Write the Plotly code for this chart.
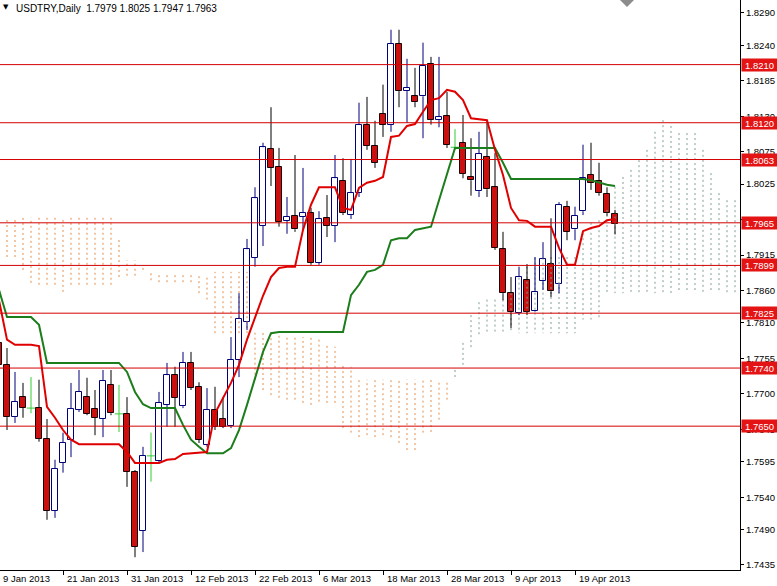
import plotly.graph_objects as go

# ---------------- data ----------------
date_labels = ["9 Jan 2013", "21 Jan 2013", "31 Jan 2013", "12 Feb 2013", "22 Feb 2013",
               "6 Mar 2013", "18 Mar 2013", "28 Mar 2013", "9 Apr 2013", "19 Apr 2013"]
label_bars = [0, 8, 16, 24, 32, 40, 48, 56, 64, 72]

opens = [1.7779, 1.7745, 1.7664, 1.7695, 1.7678, 1.7678, 1.7630, 1.7519, 1.7593, 1.7629,
         1.7675, 1.7695, 1.7677, 1.7661, 1.7714, 1.7669, 1.7669, 1.7579, 1.7488, 1.7604,
         1.7596, 1.7683, 1.7729, 1.7681, 1.7748, 1.7711, 1.7621, 1.7675, 1.7661, 1.7650,
         1.7753, 1.7811, 1.7911, 1.7960, 1.8079, 1.8052, 1.7968, 1.7976, 1.7974, 1.7980,
         1.7903, 1.7972, 1.7960, 1.8030, 1.7977, 1.8011, 1.8117, 1.8084, 1.8134, 1.8117,
         1.8242, 1.8169, 1.8161, 1.8161, 1.8211, 1.8124, 1.8130, 1.8082, 1.8089, 1.8036,
         1.8014, 1.8067, 1.8020, 1.7924, 1.7856, 1.7825, 1.7876, 1.7828, 1.7875, 1.7901,
         1.7870, 1.7990, 1.7955, 1.7983, 1.8039, 1.8030, 1.8010, 1.7979]
highs = [1.7791, 1.7771, 1.7734, 1.7717, 1.7726, 1.7722, 1.7661, 1.7598, 1.7640, 1.7717,
         1.7737, 1.7725, 1.7706, 1.7737, 1.7737, 1.7714, 1.7695, 1.7582, 1.7618, 1.7640,
         1.7703, 1.7748, 1.7742, 1.7765, 1.7765, 1.7718, 1.7709, 1.7711, 1.7695, 1.7788,
         1.7856, 1.7940, 1.8020, 1.8089, 1.8144, 1.8081, 1.8005, 1.8070, 1.8050, 1.7988,
         1.7983, 1.8008, 1.8070, 1.8065, 1.8064, 1.8151, 1.8160, 1.8123, 1.8179, 1.8264,
         1.8264, 1.8219, 1.8205, 1.8244, 1.8222, 1.8222, 1.8168, 1.8110, 1.8132, 1.8096,
         1.8106, 1.8124, 1.8073, 1.7951, 1.7881, 1.7897, 1.7901, 1.7912, 1.7935, 1.7972,
         1.7997, 1.7999, 1.7990, 1.8086, 1.8089, 1.8058, 1.8020, 1.7985]
lows = [1.7737, 1.7644, 1.7655, 1.7663, 1.7670, 1.7626, 1.7505, 1.7508, 1.7578, 1.7602,
        1.7672, 1.7667, 1.7636, 1.7633, 1.7667, 1.7641, 1.7556, 1.7447, 1.7455, 1.7564,
        1.7593, 1.7649, 1.7649, 1.7678, 1.7706, 1.7624, 1.7618, 1.7644, 1.7647, 1.7647,
        1.7726, 1.7799, 1.7897, 1.7929, 1.8022, 1.7959, 1.7948, 1.7951, 1.7954, 1.7900,
        1.7900, 1.7943, 1.7935, 1.7977, 1.7971, 1.8005, 1.8078, 1.8050, 1.8098, 1.8106,
        1.8144, 1.8120, 1.8144, 1.8096, 1.8117, 1.8113, 1.8081, 1.8078, 1.8034, 1.8007,
        1.8005, 1.8005, 1.7923, 1.7845, 1.7802, 1.7822, 1.7822, 1.7827, 1.7861, 1.7850,
        1.7856, 1.7938, 1.7938, 1.7977, 1.8016, 1.8007, 1.7976, 1.7947]
closes = [1.7745, 1.7664, 1.7688, 1.7678, 1.7678, 1.7630, 1.7519, 1.7584, 1.7624, 1.7677,
          1.7703, 1.7669, 1.7663, 1.7720, 1.7670, 1.7669, 1.7579, 1.7463, 1.7604, 1.7604,
          1.7686, 1.7729, 1.7694, 1.7748, 1.7709, 1.7629, 1.7675, 1.7649, 1.7649, 1.7753,
          1.7816, 1.7924, 1.8003, 1.8082, 1.8050, 1.7966, 1.7974, 1.7955, 1.7980, 1.7903,
          1.7971, 1.7960, 1.8034, 1.7980, 1.8011, 1.8117, 1.8084, 1.8058, 1.8117, 1.8242,
          1.8169, 1.8174, 1.8152, 1.8208, 1.8124, 1.8129, 1.8086, 1.8082, 1.8041, 1.8031,
          1.8072, 1.8017, 1.7926, 1.7856, 1.7827, 1.7881, 1.7827, 1.7858, 1.7909, 1.7859,
          1.7993, 1.7951, 1.7976, 1.8034, 1.8027, 1.8011, 1.7980, 1.7963]

tenkan = [1.7845, 1.7784, 1.7776, 1.7776, 1.7776, 1.7774, 1.7680, 1.7663, 1.7644, 1.7629,
          1.7622, 1.7622, 1.7622, 1.7622, 1.7622, 1.7622, 1.7610, 1.7593, 1.7593, 1.7593,
          1.7593, 1.7598, 1.7599, 1.7607, 1.7608, 1.7608, 1.7610, 1.7670, 1.7694, 1.7717,
          1.7745, 1.7784, 1.7818, 1.7852, 1.7881, 1.7895, 1.7897, 1.7897, 1.7954, 1.7993,
          1.8020, 1.8020, 1.8020, 1.7988, 1.7985, 1.8019, 1.8027, 1.8030, 1.8036, 1.8098,
          1.8100, 1.8115, 1.8118, 1.8137, 1.8155, 1.8158, 1.8171, 1.8168, 1.8155, 1.8127,
          1.8126, 1.8124, 1.8078, 1.8039, 1.7988, 1.7969, 1.7968, 1.7959, 1.7959, 1.7959,
          1.7926, 1.7900, 1.7900, 1.7952, 1.7957, 1.7960, 1.7969, 1.7971]
kijun = [1.7861, 1.7819, 1.7819, 1.7819, 1.7819, 1.7807, 1.7748, 1.7748, 1.7748, 1.7748,
         1.7748, 1.7748, 1.7748, 1.7748, 1.7748, 1.7748, 1.7734, 1.7703, 1.7684, 1.7678,
         1.7678, 1.7678, 1.7678, 1.7652, 1.7629, 1.7618, 1.7608, 1.7608, 1.7608, 1.7616,
         1.7644, 1.7683, 1.7726, 1.7765, 1.7794, 1.7796, 1.7796, 1.7796, 1.7796, 1.7796,
         1.7796, 1.7796, 1.7796, 1.7796, 1.7853, 1.7869, 1.7889, 1.7892, 1.7900, 1.7938,
         1.7941, 1.7941, 1.7954, 1.7957, 1.7959, 1.8000, 1.8039, 1.8081, 1.8081, 1.8081,
         1.8081, 1.8081, 1.8081, 1.8058, 1.8033, 1.8033, 1.8033, 1.8033, 1.8033, 1.8033,
         1.8033, 1.8033, 1.8033, 1.8033, 1.8031, 1.8027, 1.8024, 1.8022]

# Senkou spans (already shifted 26 bars ahead, so they run past the last candle)
span_a = [1.7912, 1.7912, 1.7912, 1.7892, 1.7872, 1.7869, 1.7869, 1.7869, 1.7858, 1.7869,
          1.7869, 1.7869, 1.7869, 1.7869, 1.7869, 1.7881, 1.7883, 1.7883, 1.7892, 1.7876,
          1.7873, 1.7873, 1.7873, 1.7873, 1.7873, 1.7856, 1.7846, 1.7794, 1.7794, 1.7794,
          1.7794, 1.7794, 1.7722, 1.7706, 1.7698, 1.7694, 1.7691, 1.7691, 1.7686, 1.7683,
          1.7688, 1.7686, 1.7686, 1.7647, 1.7640, 1.7633, 1.7636, 1.7633, 1.7636, 1.7633,
          1.7624, 1.7613, 1.7613, 1.7640, 1.7641, 1.7660, 1.7691, 1.7737, 1.7779, 1.7822,
          1.7842, 1.7846, 1.7846, 1.7846, 1.7856, 1.7880, 1.7897, 1.7911, 1.7911, 1.7912,
          1.7912, 1.7912, 1.7912, 1.7949, 1.7965, 1.7969, 1.7985, 1.8021, 1.8036, 1.8047,
          1.8062, 1.8078, 1.8106, 1.8124, 1.8115, 1.8104, 1.8104, 1.8104, 1.8078, 1.8042,
          1.8011, 1.8000, 1.8000]
span_b = [1.7973, 1.7973, 1.7973, 1.7973, 1.7973, 1.7973, 1.7973, 1.7973, 1.7973, 1.7973,
          1.7973, 1.7973, 1.7973, 1.7973, 1.7973, 1.7942, 1.7907, 1.7907, 1.7898, 1.7887,
          1.7887, 1.7887, 1.7887, 1.7887, 1.7887, 1.7887, 1.7884, 1.7889, 1.7889, 1.7889,
          1.7889, 1.7889, 1.7796, 1.7796, 1.7794, 1.7791, 1.7791, 1.7791, 1.7788, 1.7788,
          1.7784, 1.7776, 1.7773, 1.7745, 1.7742, 1.7722, 1.7722, 1.7722, 1.7722, 1.7722,
          1.7722, 1.7722, 1.7722, 1.7722, 1.7722, 1.7722, 1.7722, 1.7722, 1.7745, 1.7771,
          1.7791, 1.7794, 1.7794, 1.7794, 1.7794, 1.7794, 1.7794, 1.7794, 1.7794, 1.7794,
          1.7794, 1.7794, 1.7794, 1.7815, 1.7815, 1.7815, 1.7856, 1.7856, 1.7856, 1.7856,
          1.7856, 1.7856, 1.7856, 1.7856, 1.7856, 1.7856, 1.7856, 1.7856, 1.7856, 1.7856,
          1.7856, 1.7856, 1.7856]

levels = [1.8210, 1.8120, 1.8063, 1.7965, 1.7899, 1.7825, 1.7740, 1.7650]
y_ticks = [1.8290, 1.8240, 1.8185, 1.8130, 1.8075, 1.8025, 1.7970, 1.7915, 1.7860,
           1.7810, 1.7755, 1.7700, 1.7645, 1.7595, 1.7540, 1.7490, 1.7435]

title_text = "USDTRY,Daily  1.7979 1.8025 1.7947 1.7963"

# ---------------- styles ----------------
FONT = "Liberation Sans"
BULL_LINE = "#00007a"
BEAR_FILL = "#cc1010"
BEAR_LINE = "#1a0000"
DOJI = "#33cc33"
TENKAN_C = "#e00000"
KIJUN_C = "#1b7d1b"
CLOUD_BEAR = "#e09050"
CLOUD_BULL = "#7f9f92"
LEVEL_C = "#d40000"
X_RANGE = [0.125, 92.625]
Y_RANGE = [1.74272, 1.83101]

fig = go.Figure()

# ---- cloud (vertical dotted columns) ----
for color, want_bull in ((CLOUD_BEAR, False), (CLOUD_BULL, True)):
    xs, ys = [], []
    for i, (a, b) in enumerate(zip(span_a, span_b)):
        if (a > b) == want_bull:
            xs += [i, i, None]
            ys += [a, b, None]
    fig.add_trace(go.Scatter(x=xs, y=ys, mode="lines", hoverinfo="skip",
                             line=dict(color=color, width=1, dash="2px,3px")))

# ---- candles ----
n = len(opens)
bull = [i for i in range(n) if closes[i] > opens[i]]
bear = [i for i in range(n) if closes[i] < opens[i]]
doji = [i for i in range(n) if closes[i] == opens[i]]

def wick_xy(idx):
    xs, ys = [], []
    for i in idx:
        top = max(opens[i], closes[i])
        bot = min(opens[i], closes[i])
        xs += [i, i, None, i, i, None]
        ys += [highs[i], top, None, bot, lows[i], None]
    return xs, ys

fig.add_trace(go.Bar(x=bull, base=[opens[i] for i in bull],
                     y=[closes[i] - opens[i] for i in bull], width=0.7,
                     marker=dict(color="white", line=dict(color=BULL_LINE, width=1)),
                     hoverinfo="skip"))
fig.add_trace(go.Bar(x=bear, base=[closes[i] for i in bear],
                     y=[opens[i] - closes[i] for i in bear], width=0.7,
                     marker=dict(color=BEAR_FILL, line=dict(color=BEAR_LINE, width=1)),
                     hoverinfo="skip"))
for idx, col in ((bull, BULL_LINE), (bear, "#000000"), (doji, DOJI)):
    wx, wy = wick_xy(idx)
    fig.add_trace(go.Scatter(x=wx, y=wy, mode="lines", hoverinfo="skip",
                             line=dict(color=col, width=1)))
fig.add_trace(go.Scatter(x=doji, y=[opens[i] for i in doji], mode="markers",
                         hoverinfo="skip",
                         marker=dict(symbol="line-ew", size=6,
                                     line=dict(color=DOJI, width=1))))

# ---- Tenkan / Kijun ----
bars_x = list(range(n))
fig.add_trace(go.Scatter(x=bars_x, y=kijun, mode="lines", hoverinfo="skip",
                         line=dict(color=KIJUN_C, width=2)))
fig.add_trace(go.Scatter(x=bars_x, y=tenkan, mode="lines", hoverinfo="skip",
                         line=dict(color=TENKAN_C, width=2)))

# ---- horizontal levels with price labels ----
for lv in levels:
    fig.add_shape(type="line", xref="paper", x0=0, x1=1, yref="y", y0=lv, y1=lv,
                  line=dict(color=LEVEL_C, width=1), layer="above")
    fig.add_annotation(xref="paper", x=1, xanchor="left", xshift=1,
                       yref="y", y=lv, yanchor="middle", text=f"{lv:.4f}",
                       showarrow=False, bgcolor="#e41414", borderpad=1,
                       width=33, height=10, align="center",
                       font=dict(family=FONT, size=9.5, color="white"))

# ---- date labels (left-aligned after the tick, MT4 style) ----
for b, t in zip(label_bars, date_labels):
    fig.add_annotation(xref="x", x=max(b, X_RANGE[0]), xanchor="left",
                       xshift=2 if b > X_RANGE[0] else 1,
                       yref="paper", y=0, yanchor="top", yshift=-1,
                       text=t, showarrow=False,
                       font=dict(family=FONT, size=9.5, color="black"))

# ---- title ----
fig.add_annotation(xref="paper", x=0, xanchor="left", xshift=1,
                   yref="paper", y=1, yanchor="top", yshift=-1,
                   text="\u25bc", showarrow=False,
                   font=dict(family="DejaVu Sans", size=7, color="black"))
fig.add_annotation(xref="paper", x=0, xanchor="left", xshift=14,
                   yref="paper", y=1, yanchor="top", yshift=-1,
                   text=title_text, showarrow=False,
                   font=dict(family=FONT, size=10, color="black"))

# chart-shift marker
fig.add_shape(type="path", xref="paper", yref="paper",
              path="M 0.8378 1 L 0.8568 1 L 0.8473 0.9877 Z",
              fillcolor="#8c8c8c", line=dict(width=0), layer="above")

fig.update_layout(
    width=777, height=586,
    margin=dict(l=0, r=37, t=0, b=16),
    plot_bgcolor="white", paper_bgcolor="white",
    showlegend=False, barmode="overlay", bargap=0,
    xaxis=dict(range=X_RANGE, showgrid=False, zeroline=False, showline=True,
               linecolor="black", linewidth=1, ticks="outside", ticklen=4,
               tickcolor="black", tickvals=label_bars, showticklabels=False,
               fixedrange=True),
    yaxis=dict(range=Y_RANGE, side="right", showgrid=False, zeroline=False,
               showline=True, linecolor="black", linewidth=1, ticks="outside",
               ticklen=3, tickcolor="black", tickvals=y_ticks,
               ticktext=[f"{v:.4f}" for v in y_ticks],
               tickfont=dict(family=FONT, size=9.5, color="black"),
               fixedrange=True),
)

fig.write_html("out.html", config={"displayModeBar": False},
               post_script="document.body.style.margin='0';"
                           "document.body.style.padding='0';"
                           "document.body.style.overflow='hidden';")
